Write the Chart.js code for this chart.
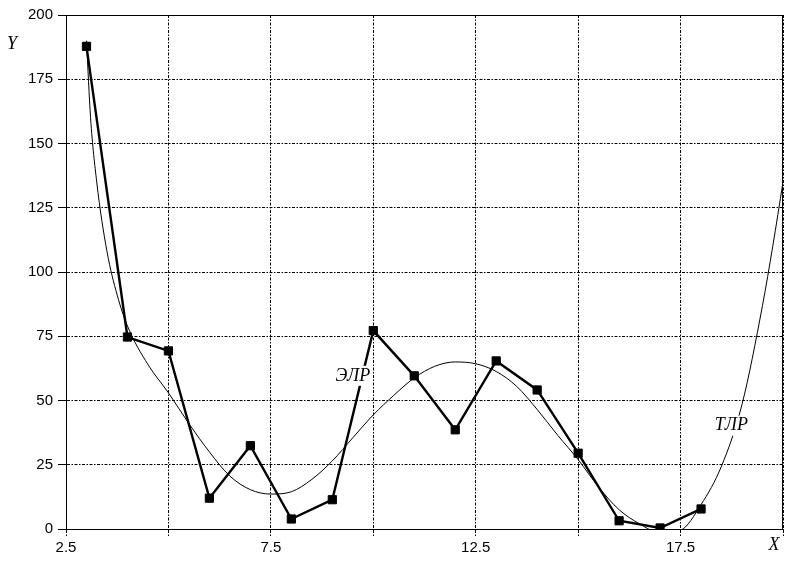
<!DOCTYPE html>
<html>
<head>
<meta charset="utf-8">
<script src="https://cdn.jsdelivr.net/npm/chart.js@4"></script>
<style>
  html, body { margin: 0; padding: 0; background: #fff; }
  canvas { display: block; }
</style>
</head>
<body>
<canvas id="chart" width="802" height="561"></canvas>
<script>
// ЭЛР - experimental points
const elrX = [3, 4, 5, 6, 7, 8, 9, 10, 11, 12, 13, 14, 15, 16, 17, 18];
const elrY = [187.8, 74.7, 69.3, 12.0, 32.4, 3.9, 11.4, 77.2, 59.6, 38.6, 65.4, 54.1, 29.5, 3.2, 0.4, 7.8];

// ТЛР - fitted curve
const tlrX = [3, 3.1, 3.25, 3.5, 3.75, 4, 4.5, 5, 5.5, 6, 6.5, 7, 7.5, 8, 8.5, 9, 9.5, 10, 10.5, 11, 11.5, 12, 12.5, 13, 13.5, 14, 14.5, 15, 15.5, 16, 16.5, 17, 17.5, 18, 18.5, 19, 19.5, 19.75, 20];
const tlrY = [190, 160, 135, 108, 91, 79, 64, 53, 41, 30, 20.6, 15.3, 13.6, 14.5, 19.3, 26.5, 35.5, 44.4, 52, 58.8, 63.3, 65, 64.3, 61.3, 55.5, 46.5, 36.5, 27, 16.3, 7.5, 2, -1.5, -0.5, 9.5, 24.5, 48.5, 87, 110, 135];

const xTickLabels = [2.5, 7.5, 12.5, 17.5];

const lbls = [
  { text: "ЭЛР", x: 9.5, y: 59.6 },
  { text: "ТЛР", x: 18.74, y: 40.2 }
];

const gridDash = [3, 1.5, 1.5, 1.5];

const toXY = (xs, ys) => xs.map((x, i) => ({ x: x, y: ys[i] }));

const framePlugin = {
  id: "frame",
  beforeDatasetsDraw(chart) {
    const a = chart.chartArea;
    const ctx = chart.ctx;
    ctx.save();
    ctx.strokeStyle = "#000";
    ctx.lineWidth = 1;
    ctx.strokeRect(Math.round(a.left) + 0.5, Math.round(a.top) + 0.5,
      Math.round(a.right - a.left) - 1, Math.round(a.bottom - a.top));
    ctx.restore();
  },
  afterDatasetsDraw(chart) {
    const ctx = chart.ctx;
    const xs = chart.scales.x;
    const ys = chart.scales.y;
    ctx.save();
    ctx.font = "italic 18px 'Liberation Serif'";
    ctx.textAlign = "center";
    ctx.textBaseline = "middle";
    lbls.forEach((l) => {
      const px = xs.getPixelForValue(l.x);
      const py = ys.getPixelForValue(l.y);
      const w = ctx.measureText(l.text).width;
      ctx.fillStyle = "#fff";
      ctx.fillRect(px - w / 2 - 2, py - 10, w + 4, 20);
      ctx.fillStyle = "#000";
      ctx.fillText(l.text, px, py);
    });
    // axis names
    ctx.fillText("Y", 12, 44);
    ctx.fillText("X", 774, 545);
    ctx.restore();
  }
};

new Chart(document.getElementById("chart"), {
  type: "line",
  data: {
    datasets: [
      {
        label: "ТЛР",
        data: toXY(tlrX, tlrY),
        borderColor: "#000",
        borderWidth: 1,
        pointRadius: 0,
        cubicInterpolationMode: "monotone",
        fill: false
      },
      {
        label: "ЭЛР",
        data: toXY(elrX, elrY),
        borderColor: "#000",
        borderWidth: 2.4,
        tension: 0,
        pointStyle: "rect",
        pointRadius: 5.8,
        pointBackgroundColor: "#000",
        pointBorderColor: "#000",
        pointBorderWidth: 1,
        fill: false
      }
    ]
  },
  options: {
    responsive: false,
    animation: false,
    layout: { padding: { top: 15, right: 19, left: 0, bottom: 0 } },
    plugins: {
      legend: { display: false },
      tooltip: { enabled: false }
    },
    scales: {
      x: {
        type: "linear",
        min: 2.5,
        max: 20,
        afterFit: (scale) => { scale.height = 32; },
        ticks: {
          stepSize: 2.5,
          autoSkip: false,
          maxRotation: 0,
          padding: 2,
          color: "#000",
          font: { family: "'Liberation Sans'", size: 15 },
          callback: (v) => {
            const r = Math.round(v * 10) / 10;
            return xTickLabels.includes(r) ? String(r) : "";
          }
        },
        grid: {
          color: "#000",
          lineWidth: 1,
          tickLength: 8,
          tickColor: "#000",
          tickBorderDash: gridDash
        },
        border: { color: "#000", width: 1, dash: gridDash }
      },
      y: {
        min: 0,
        max: 200,
        afterFit: (scale) => { scale.width = 66; },
        ticks: {
          stepSize: 25,
          padding: 5,
          color: "#000",
          font: { family: "'Liberation Sans'", size: 15 }
        },
        grid: {
          color: "#000",
          lineWidth: 1,
          tickLength: 8,
          tickColor: "#000"
        },
        border: { color: "#000", width: 1, dash: gridDash }
      }
    }
  },
  plugins: [framePlugin]
});
</script>
</body>
</html>
